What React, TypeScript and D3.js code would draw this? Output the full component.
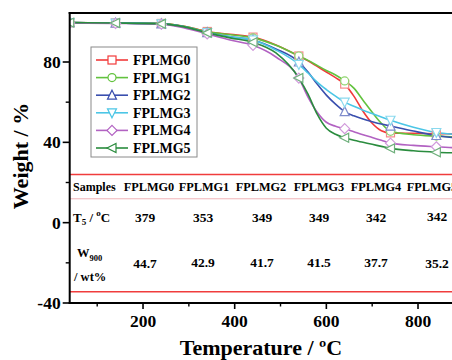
import React from "react";
import * as d3 from "d3";

const temps = [40, 140, 240, 290, 340, 390, 440, 490, 540, 560, 580, 600, 620, 640, 660, 680, 700, 720, 740, 790, 840, 880];
const markerTemps = [40, 140, 240, 340, 440, 540, 640, 740, 840];

const seriesNames = ["FPLMG0", "FPLMG1", "FPLMG2", "FPLMG3", "FPLMG4", "FPLMG5"];
const w0 = [99.6, 99.5, 99.2, 97.8, 95.2, 93.8, 92.4, 88.5, 83.0, 80.6, 77.8, 75.0, 72.2, 69.0, 63.0, 55.5, 49.5, 45.8, 44.7, 44.5, 44.3, 44.2];
const w1 = [99.6, 99.5, 99.2, 97.8, 95.0, 93.6, 92.0, 88.3, 83.0, 80.8, 78.3, 75.8, 73.5, 70.6, 67.0, 61.0, 55.0, 49.5, 45.5, 43.8, 43.1, 42.7];
const w2 = [99.6, 99.4, 99.0, 97.5, 94.6, 92.5, 91.0, 86.5, 80.0, 75.0, 69.0, 63.5, 59.0, 55.3, 53.2, 51.6, 50.3, 49.1, 48.1, 45.6, 43.4, 42.3];
const w3 = [99.6, 99.4, 99.0, 97.5, 94.6, 92.5, 91.0, 86.0, 78.8, 74.5, 70.0, 66.3, 63.0, 60.0, 58.0, 56.0, 54.3, 52.6, 51.0, 47.5, 44.9, 44.0];
const w4 = [99.4, 99.2, 98.8, 97.0, 94.0, 91.0, 88.3, 82.5, 72.0, 62.5, 55.0, 50.0, 48.0, 46.8, 45.3, 43.8, 42.4, 41.0, 39.6, 38.5, 37.8, 37.3];
const w5 = [99.6, 99.4, 99.0, 97.5, 94.5, 92.0, 89.8, 84.5, 72.0, 64.0, 54.0, 47.0, 44.0, 42.3, 41.0, 40.0, 39.0, 38.0, 37.0, 35.8, 35.1, 34.8];
const seriesValues = [w0, w1, w2, w3, w4, w5];
const colors = ["#f23a3a", "#62c23e", "#3a4fae", "#4cc6e6", "#b262c2", "#2a8c3e"];
const markerColors = ["#f58a8a", "#8fd46e", "#7f8ccc", "#8ad9ee", "#d19adb", "#6fb07c"];
const markerTypes = ["square", "circle", "triangleUp", "triangleDown", "diamond", "triangleLeft"];

const xTicks = [200, 400, 600, 800];
const xMinor = [100, 300, 500, 700];
const yTicks = [-40, 0, 40, 80];
const yMinor = [-20, 20, 60];

const tableHeader = "Samples";
const t5Values = ["379", "353", "349", "349", "342", "342"];
const w900Values = ["44.7", "42.9", "41.7", "41.5", "37.7", "35.2"];

const W = 452, H = 360;
const left = 69.7, top = 13, bottom = 303;
const x = d3.scaleLinear().domain([40, 880]).range([left, left + 840 * 0.4583]);
const y = d3.scaleLinear().domain([-40, 104.4]).range([bottom, top]);

const FONT = "Liberation Serif, Times New Roman, serif";

function Marker({ type, cx, cy, color }: { type: string; cx: number; cy: number; color: string }) {
  const s = 4;
  const common = { fill: "white", stroke: color, strokeWidth: 1.2 };
  if (type === "square") return <rect x={cx - s} y={cy - s} width={2 * s} height={2 * s} {...common} />;
  if (type === "circle") return <circle cx={cx} cy={cy} r={s} {...common} />;
  let pts: [number, number][] = [];
  if (type === "triangleUp") pts = [[cx, cy - s - 1], [cx + s + 0.5, cy + s], [cx - s - 0.5, cy + s]];
  if (type === "triangleDown") pts = [[cx, cy + s + 1], [cx + s + 0.5, cy - s], [cx - s - 0.5, cy - s]];
  if (type === "diamond") pts = [[cx, cy - s - 1], [cx + s + 1, cy], [cx, cy + s + 1], [cx - s - 1, cy]];
  if (type === "triangleLeft") pts = [[cx - s - 1, cy], [cx + s, cy - s - 0.5], [cx + s, cy + s + 0.5]];
  return <polygon points={pts.map((p) => p.join(",")).join(" ")} {...common} />;
}

export default function App() {
  const line = d3
    .line<number>()
    .x((_, i) => x(temps[i]))
    .y((d) => y(d))
    .curve(d3.curveMonotoneX);

  const colX = [149, 204, 261, 319, 376, 432];
  const t5X = [145, 203, 262, 319, 376, 437];

  return (
    <svg width={W} height={H} style={{ position: "absolute", left: 0, top: 0, background: "white", fontFamily: FONT }}>
      <defs>
        <clipPath id="plotclip">
          <rect x={left} y={top} width={W - left} height={bottom - top} />
        </clipPath>
      </defs>
      {/* table lines */}
      <line x1={left} x2={W} y1={y(24)} y2={y(24)} stroke="#f03c3c" strokeWidth={1.6} />
      <line x1={left} x2={W} y1={y(11.9)} y2={y(11.9)} stroke="#f0b4b8" strokeWidth={1} />
      <line x1={left} x2={W} y1={y(-34.4)} y2={y(-34.4)} stroke="#f03c3c" strokeWidth={1.6} />

      {/* series */}
      <g clipPath="url(#plotclip)">
        {seriesValues.map((vals, si) => (
          <path key={si} d={line(vals) || ""} fill="none" stroke={colors[si]} strokeWidth={1.6} />
        ))}
        {seriesValues.map((vals, si) =>
          markerTemps.map((t) => {
            const i = temps.indexOf(t);
            return <Marker key={si + "-" + t} type={markerTypes[si]} cx={x(t)} cy={y(vals[i])} color={markerColors[si]} />;
          })
        )}
      </g>

      {/* axes frame */}
      <line x1={left} x2={left} y1={top - 1} y2={bottom + 1} stroke="black" strokeWidth={2} />
      <line x1={left - 1} x2={W} y1={bottom} y2={bottom} stroke="black" strokeWidth={2} />
      <line x1={left - 1} x2={W} y1={top} y2={top} stroke="black" strokeWidth={2} />

      {/* y ticks */}
      {yTicks.map((t) => (
        <g key={t}>
          <line x1={left - 7} x2={left} y1={y(t)} y2={y(t)} stroke="black" strokeWidth={1.6} />
          <text x={left - 9} y={y(t) + 6} textAnchor="end" fontSize={17.5} fontWeight="bold">
            {t}
          </text>
        </g>
      ))}
      {yMinor.map((t) => (
        <line key={t} x1={left - 4} x2={left} y1={y(t)} y2={y(t)} stroke="black" strokeWidth={1.4} />
      ))}
      {/* x ticks */}
      {xTicks.map((t) => (
        <g key={t}>
          <line x1={x(t)} x2={x(t)} y1={bottom} y2={bottom + 6} stroke="black" strokeWidth={1.6} />
          <text x={x(t)} y={327} textAnchor="middle" fontSize={17.5} fontWeight="bold">
            {t}
          </text>
        </g>
      ))}
      {xMinor.map((t) => (
        <line key={t} x1={x(t)} x2={x(t)} y1={bottom} y2={bottom + 3.5} stroke="black" strokeWidth={1.4} />
      ))}

      {/* axis titles */}
      <text x={261} y={355} textAnchor="middle" fontSize={22} fontWeight="bold">
        Temperature / ºC
      </text>
      <text transform={`translate(28,156) rotate(-90)`} textAnchor="middle" fontSize={22} fontWeight="bold">
        Weight / %
      </text>

      {/* legend */}
      <rect x={91} y={47} width={106} height={110} fill="white" stroke="#8a8a8a" strokeWidth={1} />
      {seriesNames.map((n, i) => {
        const ly = 60 + i * 17.6;
        return (
          <g key={n}>
            <line x1={96} x2={128} y1={ly} y2={ly} stroke={colors[i]} strokeWidth={1.6} />
            <Marker type={markerTypes[i]} cx={112} cy={ly} color={colors[i]} />
            <text x={133} y={ly + 5} fontSize={14} fontWeight="bold">
              {n}
            </text>
          </g>
        );
      })}

      {/* table text */}
      <text x={73} y={191} fontSize={12} fontWeight="bold">
        {tableHeader}
      </text>
      {seriesNames.map((n, i) => (
        <text key={n} x={colX[i]} y={191} textAnchor="middle" fontSize={12.3} fontWeight="bold">
          {n}
        </text>
      ))}
      <text x={73} y={222} fontSize={13} fontWeight="bold">
        T<tspan fontSize={9} dy={3}>5</tspan>
        <tspan dy={-3}> / </tspan>
        <tspan fontSize={9} dy={-6}>o</tspan>
        <tspan dy={6}>C</tspan>
      </text>
      {t5Values.map((v, i) => (
        <text key={i} x={t5X[i]} y={i === 5 ? 221 : 222} textAnchor="middle" fontSize={13.5} fontWeight="bold">
          {v}
        </text>
      ))}
      <text x={77} y={257} fontSize={12.5} fontWeight="bold">
        W<tspan fontSize={8.5} dy={4}>900</tspan>
      </text>
      <text x={74} y={281} fontSize={12.5} fontWeight="bold">
        / wt%
      </text>
      {w900Values.map((v, i) => (
        <text key={i} x={t5X[i]} y={i === 0 || i === 5 ? 268 : 267} textAnchor="middle" fontSize={13.5} fontWeight="bold">
          {v}
        </text>
      ))}
    </svg>
  );
}
